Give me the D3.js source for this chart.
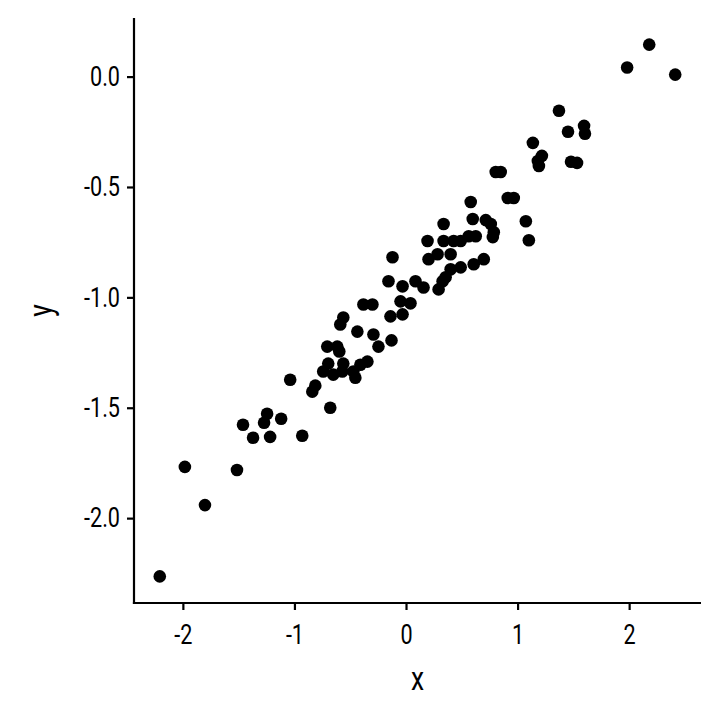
<!DOCTYPE html>
<html>
<head>
<meta charset="utf-8">
<script src="https://cdn.jsdelivr.net/npm/d3@7"></script>
<style>
  body { margin: 0; background: #fff; }
  svg text { font-family: "Roboto", "Liberation Sans", sans-serif; }
</style>
</head>
<body>
<svg id="chart" width="720" height="720"></svg>
<script>
// point values
var xs = [-2.207, -1.982, -1.802, -1.515, -1.461, -1.371, -1.272, -1.245, -1.218, -1.119,
          -0.930, -1.038, -0.679, -0.840, -0.813, -0.742, -0.697, -0.652, -0.571, -0.562,
          -0.472, -0.454, -0.409, -0.346, -0.706, -0.616, -0.598, -0.589, -0.562, -0.436,
          -0.292, -0.247, -0.130, -0.382, -0.301, -0.139, -0.031, -0.049, 0.040, -0.157,
          -0.031, 0.085, 0.157, -0.121, 0.193, 0.202, 0.283, 0.400, 0.337, 0.427,
          0.490, 0.400, 0.490, 0.607, 0.697, 0.355, 0.328, 0.292, 0.337, 0.580,
          0.598, 0.715, 0.760, 0.787, 0.778, 0.562, 0.625, 1.074, 1.101, 0.912,
          0.966, 0.804, 0.849, 1.137, 1.218, 1.182, 1.191, 1.479, 1.533, 1.371,
          1.452, 1.596, 1.604, 1.982, 2.180, 2.413];
var ys = [-2.264, -1.768, -1.941, -1.782, -1.577, -1.636, -1.568, -1.527, -1.632, -1.550,
          -1.627, -1.373, -1.500, -1.427, -1.400, -1.336, -1.300, -1.350, -1.336, -1.300,
          -1.336, -1.364, -1.305, -1.291, -1.223, -1.223, -1.245, -1.123, -1.091, -1.155,
          -1.168, -1.223, -1.195, -1.032, -1.032, -1.086, -1.077, -1.018, -1.027, -0.927,
          -0.950, -0.927, -0.955, -0.818, -0.745, -0.827, -0.805, -0.805, -0.745, -0.745,
          -0.745, -0.873, -0.864, -0.850, -0.827, -0.909, -0.927, -0.964, -0.668, -0.568,
          -0.645, -0.650, -0.668, -0.705, -0.727, -0.723, -0.723, -0.655, -0.741, -0.550,
          -0.550, -0.432, -0.432, -0.300, -0.359, -0.382, -0.405, -0.386, -0.391, -0.155,
          -0.250, -0.223, -0.259, 0.041, 0.145, 0.009];
var xTicks = [-2, -1, 0, 1, 2];
var yTicks = [0, -0.5, -1, -1.5, -2];

var data = xs.map(function(x, i) { return [x, ys[i]]; });

var svg = d3.select("#chart"),
    mLeft = 134, mRight = 701, mTop = 18, mBottom = 603;

// ggplot-style 5% expansion
function expand(ext) {
  var d = (ext[1] - ext[0]) * 0.05;
  return [ext[0] - d, ext[1] + d];
}

var xScale = d3.scaleLinear().domain(expand(d3.extent(xs))).range([mLeft, mRight]),
    yScale = d3.scaleLinear().domain(expand(d3.extent(ys))).range([mBottom, mTop]);

var hyphen = function(f) { return function(d) { return f(d).replace("\u2212", "-"); }; };

var xAxis = svg.append("g")
  .attr("transform", "translate(0," + mBottom + ")")
  .call(d3.axisBottom(xScale).tickValues(xTicks).tickSizeOuter(0).tickSizeInner(7).tickPadding(15)
        .tickFormat(hyphen(d3.format("d"))));

var yAxis = svg.append("g")
  .attr("transform", "translate(" + mLeft + ",0)")
  .call(d3.axisLeft(yScale).tickValues(yTicks).tickSizeOuter(0).tickSizeInner(7).tickPadding(7)
        .tickFormat(hyphen(d3.format(".1f"))));

[xAxis, yAxis].forEach(function(ax) {
  ax.attr("font-family", null);
  ax.select(".domain").attr("stroke", "#000").attr("stroke-width", 2.2);
  ax.selectAll(".tick line").attr("stroke", "#000").attr("stroke-width", 2.2);
  ax.selectAll(".tick text").attr("fill", "#000").attr("font-size", 27);
});
// narrow the tick labels like the condensed face in the reference
xAxis.selectAll(".tick text").attr("transform", "scale(0.8,1)");
yAxis.selectAll(".tick text").attr("transform", "scale(0.8,1)")
  .attr("x", -14 / 0.8);

// extend axis lines so they meet at the corner
xAxis.select(".domain").attr("d", "M" + (mLeft - 1.1) + ",0H" + mRight);
yAxis.select(".domain").attr("d", "M0," + mTop + "V" + (mBottom + 1.1));

svg.append("g").selectAll("circle")
  .data(data)
  .enter().append("circle")
  .attr("cx", function(d) { return xScale(d[0]); })
  .attr("cy", function(d) { return yScale(d[1]); })
  .attr("r", 6.3)
  .attr("fill", "#000");

svg.append("text")
  .attr("transform", "translate(" + (mLeft + mRight) / 2 + ",690) scale(0.8,1)")
  .attr("text-anchor", "middle")
  .attr("font-size", 33)
  .text("x");

svg.append("text")
  .attr("transform", "translate(52," + (mTop + mBottom) / 2 + ") rotate(-90) scale(0.8,1)")
  .attr("text-anchor", "middle")
  .attr("font-size", 33)
  .text("y");
</script>
</body>
</html>
